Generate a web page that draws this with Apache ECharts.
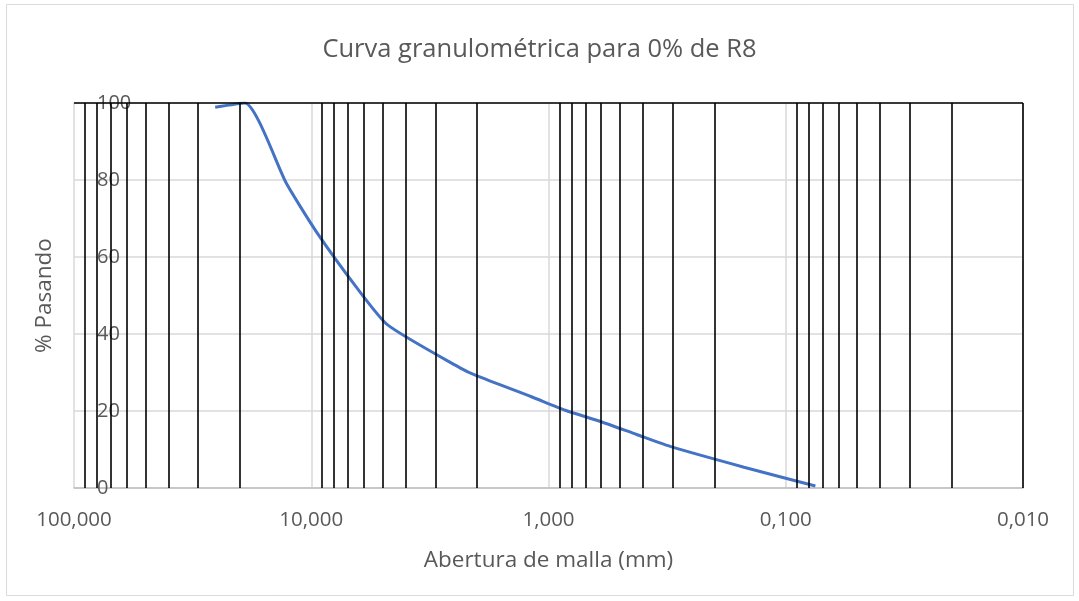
<!DOCTYPE html>
<html>
<head>
<meta charset="utf-8">
<script src="https://cdn.jsdelivr.net/npm/echarts@6/dist/echarts.min.js"></script>
<style>
  html, body { margin: 0; padding: 0; background: #ffffff; }
  #chart { width: 1079px; height: 601px; }
</style>
</head>
<body>
<div id="chart"></div>
<script>
// Sieve openings (mm) and cumulative percent passing
const sieveSizes = [25.4, 19.05, 12.7, 9.525, 6.35, 4.75, 2.36, 2.0, 1.18, 0.85, 0.6, 0.425, 0.3, 0.15, 0.075];
const percentPassing = [98.9, 100, 79.0, 66.6, 51.6, 42.3, 31.2, 29.1, 23.7, 20.2, 17.2, 13.9, 10.6, 5.4, 0.5];

// Reference lines drawn across the plot (mm)
const referenceLines = [
  90, 80, 70, 60, 50, 40, 30, 20,
  9, 8, 7, 6, 5, 4, 3, 2,
  0.9, 0.8, 0.7, 0.6, 0.5, 0.4, 0.3, 0.2,
  0.09, 0.08, 0.07, 0.06, 0.05, 0.04, 0.03, 0.02,
  0.01
];

// Decade tick labels, from 10^2 down to 10^-2
const xTickLabels = { '2': '100,000', '1': '10,000', '0': '1,000', '-1': '0,100', '-2': '0,010' };
const yTicks = [0, 20, 40, 60, 80, 100];

const textColor = '#595959';
const fontFamily = '"Open Sans", "Noto Sans", sans-serif';

const chart = echarts.init(document.getElementById('chart'), null, { renderer: 'canvas' });

const markData = referenceLines.map(v => ({ xAxis: v }));
markData.push({ yAxis: 100 });

chart.setOption({
  backgroundColor: '#ffffff',
  animation: false,
  title: {
    text: 'Curva granulométrica para 0% de R8',
    left: 'center',
    top: 32,
    textStyle: { color: textColor, fontSize: 25.5, fontWeight: 'normal', fontFamily: fontFamily }
  },
  graphic: [{
    type: 'rect',
    shape: { x: 6.5, y: 4.5, width: 1067, height: 591 },
    style: { fill: 'none', stroke: '#d9d9d9', lineWidth: 1 },
    silent: true,
    z: -1
  }],
  grid: { left: 74, right: 56, top: 103, bottom: 113 },
  xAxis: {
    type: 'log',
    logBase: 10,
    min: 0.01,
    max: 100,
    inverse: true,
    name: 'Abertura de malla (mm)',
    nameLocation: 'middle',
    nameGap: 61,
    nameTextStyle: { color: textColor, fontSize: 22.5, fontFamily: fontFamily },
    axisLine: { show: true, onZero: false, lineStyle: { color: '#bfbfbf', width: 1.5 } },
    axisTick: { show: false },
    axisLabel: {
      color: textColor, fontSize: 20.5, fontFamily: fontFamily, margin: 22,
      formatter: v => xTickLabels[String(Math.round(Math.log10(v)))] || ''
    },
    splitLine: { show: true, lineStyle: { color: '#d9d9d9', width: 1.5 } }
  },
  yAxis: {
    type: 'value',
    min: 0,
    max: 100,
    interval: 20,
    name: '% Pasando',
    nameLocation: 'middle',
    nameGap: 18,
    nameTextStyle: { color: textColor, fontSize: 22.5, fontFamily: fontFamily },
    axisLine: { show: false },
    axisTick: { show: false },
    axisLabel: {
      color: textColor, fontSize: 20, fontFamily: fontFamily,
      align: 'left', margin: -23, padding: [4, 0, 0, 0],
      formatter: v => (yTicks.indexOf(v) >= 0 ? String(v) : '')
    },
    splitLine: { show: true, lineStyle: { color: '#d9d9d9', width: 1.5 } }
  },
  series: [
    {
      type: 'line',
      data: [],
      silent: true,
      markLine: {
        silent: true,
        symbol: 'none',
        label: { show: false },
        lineStyle: { color: '#000000', width: 1.6, type: 'solid' },
        data: markData,
        animation: false
      },
      z: 2
    },
    {
      type: 'line',
      data: sieveSizes.map((s, i) => [s, percentPassing[i]]),
      smooth: 0.2,
      showSymbol: false,
      lineStyle: { color: '#4472C4', width: 3 },
      itemStyle: { color: '#4472C4' },
      z: 3
    }
  ]
});
</script>
</body>
</html>
